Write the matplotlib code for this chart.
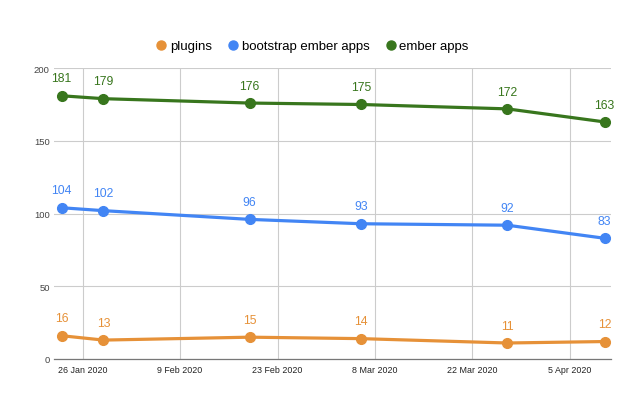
import datetime as dt
import matplotlib
matplotlib.use('Agg')
import matplotlib.pyplot as plt
import matplotlib.dates as mdates
from matplotlib.lines import Line2D

plt.rcParams['font.family'] = ['Liberation Sans', 'DejaVu Sans']

# 数据
dates = [dt.date(2020, 1, 23), dt.date(2020, 1, 29), dt.date(2020, 2, 19),
         dt.date(2020, 3, 6), dt.date(2020, 3, 27), dt.date(2020, 4, 10)]
plugins = [16, 13, 15, 14, 11, 12]
bootstrap = [104, 102, 96, 93, 92, 83]
ember = [181, 179, 176, 175, 172, 163]
series_names = ['plugins', 'bootstrap ember apps', 'ember apps']
colors = ['#e69138', '#4285f4', '#38761d']
tick_dates = [dt.date(2020, 1, 26), dt.date(2020, 2, 9), dt.date(2020, 2, 23),
              dt.date(2020, 3, 8), dt.date(2020, 3, 22), dt.date(2020, 4, 5)]
tick_labels = ['26 Jan 2020', '9 Feb 2020', '23 Feb 2020', '8 Mar 2020', '22 Mar 2020', '5 Apr 2020']
y_ticks = [0, 50, 100, 150, 200]

fig = plt.figure(figsize=(6.4, 4.02), dpi=100)
ax = fig.add_axes([0.0844, 0.1045, 0.8703, 0.7235])

x = mdates.date2num(dates)
for vals, name, c in zip([plugins, bootstrap, ember], series_names, colors):
    ax.plot(x, vals, color=c, lw=2.3, marker='o', markersize=7, zorder=3)
    for xi, v in zip(x, vals):
        ax.annotate(str(v), (xi, v), xytext=(0, 12.5), textcoords='offset points',
                    ha='center', va='center', color=c, fontsize=8.8)

x0 = mdates.date2num(dt.date(2020, 1, 26))
ax.set_xlim(x0 - 4.1, x0 + 75.9)
ax.set_ylim(0, 200)
ax.set_xticks(mdates.date2num(tick_dates))
ax.set_xticklabels(tick_labels, fontsize=6.4, color='#222222')
ax.set_yticks(y_ticks)
ax.set_yticklabels([str(t) for t in y_ticks], fontsize=6.8, color='#444444')
ax.tick_params(axis='x', length=0, pad=4)
ax.tick_params(axis='y', length=0, pad=3)
ax.grid(True, color='#cccccc', lw=0.8)
ax.set_axisbelow(True)
for s in ['top', 'right', 'left']:
    ax.spines[s].set_visible(False)
ax.spines['bottom'].set_color('#777777')
ax.spines['bottom'].set_linewidth(0.9)

handles = [Line2D([], [], marker='o', linestyle='none', color=c, markersize=6.5) for c in colors]
fig.legend(handles, series_names, loc='center', bbox_to_anchor=(0.487, 0.883), ncol=3,
           frameon=False, fontsize=9.5, handletextpad=0.15, columnspacing=1.1,
           handlelength=1.0)

fig.savefig('out.png', dpi=100)
